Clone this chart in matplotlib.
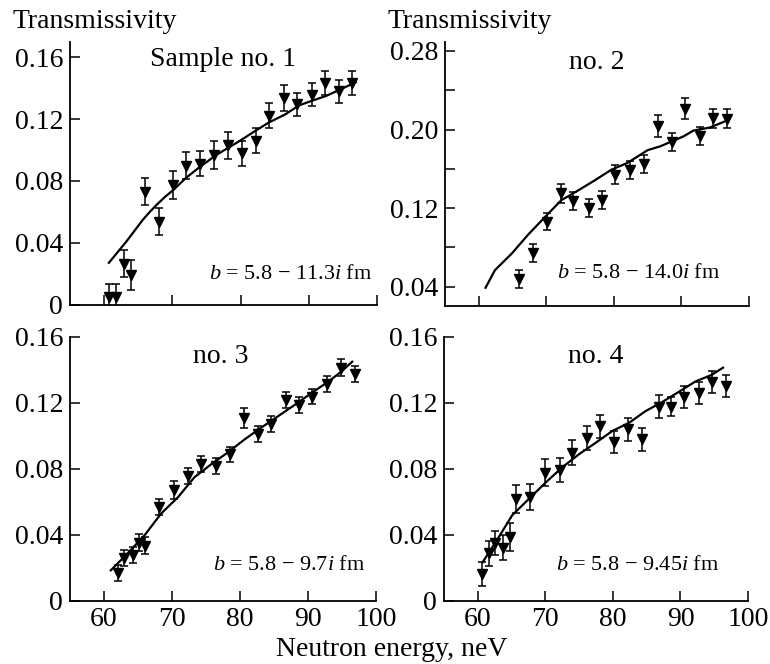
import matplotlib
matplotlib.use("Agg")
import matplotlib.pyplot as plt
from matplotlib.ticker import FixedLocator

plt.rcParams['font.family'] = ['Liberation Serif', 'DejaVu Serif']
plt.rcParams['mathtext.fontset'] = 'custom'
plt.rcParams['mathtext.rm'] = 'Liberation Serif'
plt.rcParams['mathtext.it'] = 'Liberation Serif:italic'

# ---------------- data ----------------
x1 = [60.7, 61.8, 62.9, 64.0, 66.0, 68.0, 70.1, 72.0, 74.1, 76.1, 78.2, 80.2, 82.3, 84.2, 86.4, 88.3, 90.4, 92.4, 94.5, 96.4]
y1 = [0.005, 0.005, 0.0265, 0.019, 0.073, 0.0535, 0.0776, 0.090, 0.0913, 0.0967, 0.103, 0.098, 0.106, 0.1223, 0.1337, 0.1296, 0.136, 0.1437, 0.138, 0.1437]
e1 = [0.0086, 0.0086, 0.0088, 0.0098, 0.0088, 0.0088, 0.009, 0.009, 0.0084, 0.0092, 0.0086, 0.008, 0.008, 0.0082, 0.0086, 0.0075, 0.0075, 0.0077, 0.0077, 0.0077]
cx1 = [60.7, 62.0, 63.3, 64.5, 65.7, 66.7, 67.8, 69.0, 70.1, 72.0, 74.0, 76.5, 79.9, 82.0, 84.2, 86.5, 88.6, 90.5, 92.5, 94.5, 96.9]
cy1 = [0.027, 0.034, 0.041, 0.048, 0.055, 0.060, 0.065, 0.070, 0.074, 0.082, 0.089, 0.097, 0.106, 0.112, 0.118, 0.123, 0.129, 0.132, 0.135, 0.139, 0.144]

x2 = [66.0, 68.1, 70.1, 72.2, 74.0, 76.3, 78.2, 80.2, 82.4, 84.4, 86.5, 88.6, 90.6, 92.7, 94.7, 96.7]
y2 = [0.0478, 0.0746, 0.1064, 0.135, 0.1275, 0.120, 0.128, 0.154, 0.1587, 0.165, 0.2034, 0.1875, 0.2213, 0.1935, 0.2112, 0.2108]
e2 = [0.0093, 0.009, 0.0088, 0.0095, 0.0093, 0.0093, 0.0093, 0.0095, 0.0095, 0.009, 0.0114, 0.0093, 0.011, 0.0093, 0.0092, 0.0097]
cx2 = [61.0, 62.4, 64.9, 67.3, 69.8, 72.2, 74.7, 77.1, 79.6, 82.0, 85.0, 86.9, 90.3, 91.8, 94.2, 96.7]
cy2 = [0.039, 0.057, 0.074, 0.093, 0.111, 0.128, 0.138, 0.148, 0.159, 0.166, 0.179, 0.183, 0.193, 0.199, 0.202, 0.209]

x3 = [62.0, 63.0, 64.2, 65.1, 66.1, 68.1, 70.3, 72.3, 74.3, 76.4, 78.5, 80.6, 82.6, 84.6, 86.7, 88.7, 90.6, 92.8, 94.9, 96.9]
y3 = [0.017, 0.026, 0.028, 0.0354, 0.0336, 0.0568, 0.0674, 0.0756, 0.083, 0.0818, 0.0888, 0.111, 0.101, 0.1074, 0.1216, 0.1188, 0.1238, 0.1314, 0.1414, 0.1376]
e3 = [0.005, 0.005, 0.005, 0.0053, 0.005, 0.0048, 0.0053, 0.0049, 0.005, 0.0048, 0.0047, 0.006, 0.0049, 0.0047, 0.0049, 0.0047, 0.0047, 0.0047, 0.005, 0.005]
cx3 = [61.0, 63.5, 66.0, 68.4, 70.9, 73.3, 75.8, 78.2, 80.7, 83.1, 85.6, 88.1, 90.5, 93.0, 94.9, 96.5]
cy3 = [0.0186, 0.029, 0.040, 0.053, 0.063, 0.075, 0.083, 0.090, 0.098, 0.105, 0.112, 0.119, 0.126, 0.133, 0.139, 0.145]

x4 = [60.6, 61.6, 62.6, 63.8, 64.7, 65.7, 67.8, 70.0, 72.1, 74.0, 76.1, 78.1, 80.1, 82.3, 84.3, 86.8, 88.6, 90.6, 92.7, 94.7, 96.7]
y4 = [0.0162, 0.029, 0.0354, 0.0324, 0.0386, 0.0616, 0.063, 0.0778, 0.0794, 0.090, 0.0988, 0.1058, 0.0962, 0.104, 0.098, 0.1178, 0.1178, 0.1238, 0.1262, 0.1326, 0.1302]
e4 = [0.0072, 0.0076, 0.0073, 0.0077, 0.0085, 0.0085, 0.008, 0.0083, 0.0073, 0.0074, 0.0073, 0.0072, 0.0068, 0.007, 0.007, 0.0068, 0.0057, 0.0068, 0.0068, 0.0065, 0.0068]
cx4 = [60.7, 62.7, 65.1, 67.6, 70.1, 72.5, 75.0, 77.5, 79.9, 82.4, 84.8, 87.3, 89.7, 92.2, 94.6, 96.3]
cy4 = [0.0234, 0.036, 0.052, 0.062, 0.072, 0.081, 0.089, 0.096, 0.103, 0.108, 0.115, 0.1206, 0.1266, 0.133, 0.137, 0.1414]

titles = ["Sample no. 1", "no. 2", "no. 3", "no. 4"]
notes = [r"$b$ = 5.8 − 11.3$i$ fm", r"$b$ = 5.8 − 14.0$i$ fm",
         r"$b$ = 5.8 − 9.7$i$ fm", r"$b$ = 5.8 − 9.45$i$ fm"]
xticks = [60, 70, 80, 90, 100]
yticks_a = [0, 0.04, 0.08, 0.12, 0.16]
yticks_b = [0.04, 0.12, 0.20, 0.28]
yticks_b_minor = [0.08, 0.16, 0.24]
ylabel = "Transmissivity"
xlabel = "Neutron energy, neV"

# ---------------- layout ----------------
W, H = 770, 664
fig = plt.figure(figsize=(W / 100, H / 100), dpi=100)

def box(l, r, t, b):
    return [l / W, 1 - b / H, (r - l) / W, (b - t) / H]

boxes = [box(70, 377, 42, 304.5), box(445, 749, 42, 305.5),
         box(70, 376, 337, 601), box(444, 748, 337, 601)]
data = [(x1, y1, e1, cx1, cy1), (x2, y2, e2, cx2, cy2),
        (x3, y3, e3, cx3, cy3), (x4, y4, e4, cx4, cy4)]
ylims = [(0, 0.170), (0.021, 0.289), (0, 0.16), (0, 0.16)]
title_pos = [(0.498, 0.909), (0.50, 0.898), (0.493, 0.90), (0.50, 0.90)]
note_pos = [(0.984, 0.116), (0.905, 0.123), (0.964, 0.136), (0.905, 0.136)]

for i in range(4):
    ax = fig.add_axes(boxes[i])
    x, y, e, cx, cy = data[i]
    ax.plot(cx, cy, color='black', lw=1.6, zorder=2)
    ax.errorbar(x, y, yerr=e, fmt='v', color='black', ms=6.5, mec='black',
                ecolor='black', elinewidth=1.1, capsize=2.8, capthick=1.1, zorder=3)
    ax.set_xlim(55, 100)
    ax.set_ylim(*ylims[i])
    ax.set_xticks(xticks)
    if i == 1:
        ax.set_yticks(yticks_b)
        ax.set_yticklabels(["0.04", "0.12", "0.20", "0.28"])
        ax.yaxis.set_minor_locator(FixedLocator(yticks_b_minor))
        ax.tick_params(axis='y', which='minor', direction='in', length=7, width=1.1)
    else:
        ax.set_yticks(yticks_a)
        ax.set_yticklabels(["0", "0.04", "0.08", "0.12", "0.16"])
    if i < 2:
        ax.set_xticklabels([])
    for s in ['top', 'right']:
        ax.spines[s].set_visible(False)
    for s in ['left', 'bottom']:
        ax.spines[s].set_linewidth(1.3)
    ax.tick_params(axis='both', which='major', direction='in', length=7, width=1.1,
                   labelsize=20, pad=5)
    ax.tick_params(axis='x', pad=4)
    ax.text(title_pos[i][0], title_pos[i][1], titles[i], transform=ax.transAxes,
            ha='center', va='baseline', fontsize=20)
    ax.text(note_pos[i][0], note_pos[i][1], notes[i], transform=ax.transAxes,
            ha='right', va='center', fontsize=16)

fig.text(13 / W, 1 - 28 / H, ylabel, ha='left', va='baseline', fontsize=20)
fig.text(388 / W, 1 - 28 / H, ylabel, ha='left', va='baseline', fontsize=20)
fig.text(391.5 / W, 1 - 656 / H, xlabel, ha='center', va='baseline', fontsize=20)

fig.savefig("out.png", dpi=100)
